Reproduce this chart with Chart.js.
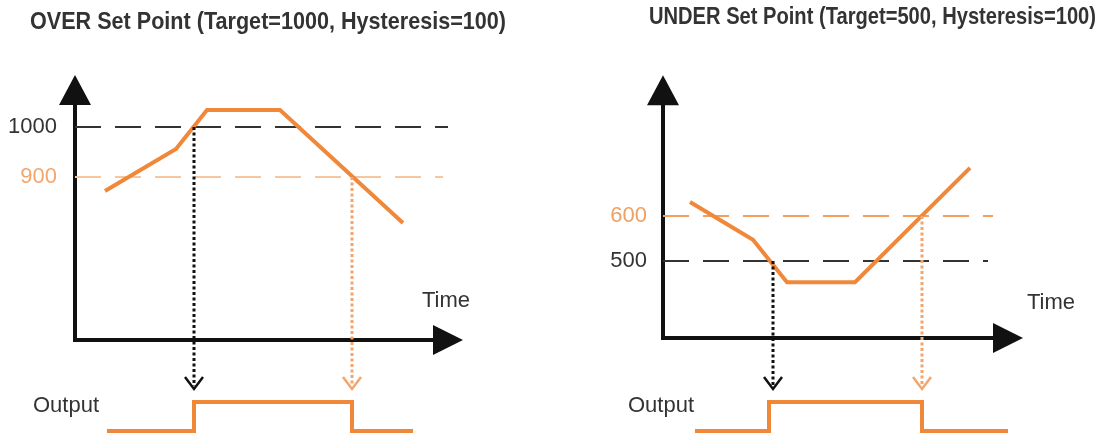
<!DOCTYPE html>
<html>
<head>
<meta charset="utf-8">
<script src="https://cdn.jsdelivr.net/npm/chart.js@4.4.1/dist/chart.umd.min.js"></script>
<style>
html, body { margin: 0; padding: 0; background: #fff; }
#wrap { position: relative; width: 1100px; height: 439px; }
.panel { position: absolute; top: 0; width: 550px; height: 439px; }
</style>
</head>
<body>
<div id="wrap">
  <div class="panel" style="left:0"><canvas id="over" width="550" height="439"></canvas></div>
  <div class="panel" style="left:550px"><canvas id="under" width="550" height="439"></canvas></div>
</div>
<script>
// OVER set point: process value against time
var overTime  = [3.0, 10.1, 13.2, 20.5, 32.8];
var overValue = [872, 956, 1034, 1034, 808];
var overTarget = 1000;
var overReset  = 900;
var overOutTime  = [3.2, 11.9, 11.9, 27.7, 27.7, 33.8];
var overOutLevel = [0, 0, 1, 1, 0, 0];
var overDrops = [11.9, 27.7];

// UNDER set point
var underTime  = [2.7, 9.0, 12.4, 19.2, 30.7];
var underValue = [631, 547, 453, 453, 707];
var underTarget = 500;
var underReset  = 600;
var underOutTime  = [3.2, 10.6, 10.6, 25.9, 25.9, 34.5];
var underOutLevel = [0, 0, 1, 1, 0, 0];
var underDrops = [11.0, 25.9];

var orange = '#f0883a';
var orangeLight = '#f3a56c';
var dark = '#333333';

function pts(xs, ys) {
    return xs.map(function(x, i) { return {x: x, y: ys[i]}; });
}

function fitText(ctx, text, x, y, width, align) {
    var w = ctx.measureText(text).width;
    var k = width / w;
    ctx.save();
    ctx.translate(x, y);
    ctx.scale(k, 1);
    ctx.textAlign = align;
    ctx.fillText(text, 0, 0);
    ctx.restore();
}

var diagram = {
    id: 'diagram',
    beforeDatasetsDraw: function(chart, args, o) {
        var ctx = chart.ctx, sx = chart.scales.x, sy = chart.scales.y;
        var x0 = sx.getPixelForValue(0), x1 = sx.getPixelForValue(o.timeEnd);
        var yb = sy.getPixelForValue(o.valueBase), yt = sy.getPixelForValue(o.valueTop);
        ctx.save();
        ctx.strokeStyle = '#111';
        ctx.fillStyle = '#111';
        ctx.lineWidth = 4;
        ctx.beginPath();
        ctx.moveTo(x0, yb + 2);
        ctx.lineTo(x0, yt + 25);
        ctx.moveTo(x0 - 2, yb);
        ctx.lineTo(x1 - 25, yb);
        ctx.stroke();
        ctx.beginPath();
        ctx.moveTo(x0, yt);
        ctx.lineTo(x0 - 16, yt + 30);
        ctx.lineTo(x0 + 16, yt + 30);
        ctx.closePath();
        ctx.fill();
        ctx.beginPath();
        ctx.moveTo(x1, yb);
        ctx.lineTo(x1 - 30, yb - 15);
        ctx.lineTo(x1 - 30, yb + 15);
        ctx.closePath();
        ctx.fill();
        ctx.restore();
    },
    afterDatasetsDraw: function(chart, args, o) {
        var ctx = chart.ctx, sx = chart.scales.x, sy = chart.scales.y, so = chart.scales.yo;
        var tip = so.getPixelForValue(o.arrowLevel);
        ctx.save();
        // dotted drop lines and chevrons
        o.drops.forEach(function(d) {
            var x = sx.getPixelForValue(d.t);
            ctx.strokeStyle = d.color;
            ctx.lineWidth = 3;
            ctx.setLineDash([3, 2.5]);
            ctx.beginPath();
            ctx.moveTo(x, sy.getPixelForValue(d.from));
            ctx.lineTo(x, tip - 3);
            ctx.stroke();
            ctx.setLineDash([]);
            ctx.lineWidth = 2.5;
            ctx.beginPath();
            ctx.moveTo(x - 9, tip - 12);
            ctx.lineTo(x, tip);
            ctx.lineTo(x + 9, tip - 12);
            ctx.stroke();
        });
        // threshold labels
        ctx.font = '22px "Liberation Sans", Arial, sans-serif';
        ctx.textBaseline = 'middle';
        ctx.textAlign = 'right';
        o.labels.forEach(function(l) {
            ctx.fillStyle = l.color;
            ctx.fillText(String(l.v), o.labelX, sy.getPixelForValue(l.v));
        });
        ctx.fillStyle = dark;
        ctx.textAlign = 'left';
        ctx.fillText('Time', o.timeLabel[0], o.timeLabel[1]);
        ctx.fillText('Output', o.outLabel[0], o.outLabel[1]);
        // title
        ctx.font = 'bold 24px "Liberation Sans Narrow", "Liberation Sans", Arial, sans-serif';
        fitText(ctx, o.title, o.titlePos[0], o.titlePos[1], o.titlePos[2], o.titlePos[3]);
        ctx.restore();
    }
};

function makeChart(id, p) {
    var outMin = -8 / 29, outMax = outMin + 439 / 29;
    return new Chart(document.getElementById(id), {
        type: 'scatter',
        data: {
            datasets: [{
                data: pts(p.time, p.value),
                showLine: true,
                borderColor: orange,
                borderWidth: 4,
                borderJoinStyle: 'miter',
                pointRadius: 0,
                clip: false
            }, {
                data: pts(p.outTime, p.outLevel),
                yAxisID: 'yo',
                showLine: true,
                borderColor: orange,
                borderWidth: 4,
                borderJoinStyle: 'miter',
                pointRadius: 0,
                clip: false
            }, {
                data: [{x: 0, y: p.target}, {x: p.targetEnd, y: p.target}],
                showLine: true,
                borderColor: dark,
                borderWidth: 1.8,
                borderDash: [26, 14],
                pointRadius: 0
            }, {
                data: [{x: 0, y: p.reset}, {x: p.resetEnd, y: p.reset}],
                showLine: true,
                borderColor: p.resetColor,
                borderWidth: 1.8,
                borderDash: [26, 14],
                pointRadius: 0
            }]
        },
        options: {
            responsive: false,
            animation: false,
            events: [],
            layout: { padding: 0 },
            scales: {
                x: { type: 'linear', display: false, min: p.xMin, max: p.xMin + 55 },
                y: { type: 'linear', display: false, min: p.yMax - 439 / p.yScale, max: p.yMax },
                yo: { type: 'linear', display: false, min: outMin, max: outMax }
            },
            plugins: {
                legend: { display: false },
                tooltip: { enabled: false },
                diagram: p.deco
            }
        },
        plugins: [diagram]
    });
}

makeChart('over', {
    time: overTime, value: overValue,
    outTime: overOutTime, outLevel: overOutLevel,
    target: overTarget, reset: overReset,
    targetEnd: 37.3, resetEnd: 36.8,
    resetColor: '#f6c6a0',
    xMin: -7.5, yMax: 1254, yScale: 0.5,
    deco: {
        timeEnd: 38.8, valueBase: 574, valueTop: 1104, arrowLevel: 1.45,
        drops: [{t: overDrops[0], from: overTarget, color: '#111'},
                {t: overDrops[1], from: overReset, color: orangeLight}],
        labels: [{v: overTarget, color: dark}, {v: overReset, color: orangeLight}],
        labelX: 57,
        timeLabel: [422, 301], outLabel: [33, 406],
        title: 'OVER Set Point (Target=1000, Hysteresis=100)',
        titlePos: [268, 22, 476, 'center']
    }
});

makeChart('under', {
    time: underTime, value: underValue,
    outTime: underOutTime, outLevel: underOutLevel,
    target: underTarget, reset: underReset,
    targetEnd: 32.5, resetEnd: 33.0,
    resetColor: '#f0a060',
    xMin: -11.3, yMax: 1080, yScale: 0.45,
    deco: {
        timeEnd: 36.0, valueBase: 329, valueTop: 913, arrowLevel: 1.45,
        drops: [{t: underDrops[0], from: underTarget, color: '#111'},
                {t: underDrops[1], from: underReset, color: orangeLight}],
        labels: [{v: underReset, color: '#f0a060'}, {v: underTarget, color: dark}],
        labelX: 97,
        timeLabel: [477, 303], outLabel: [78, 406],
        title: 'UNDER Set Point (Target=500, Hysteresis=100)',
        titlePos: [546, 17, 447, 'right']
    }
});
</script>
</body>
</html>
